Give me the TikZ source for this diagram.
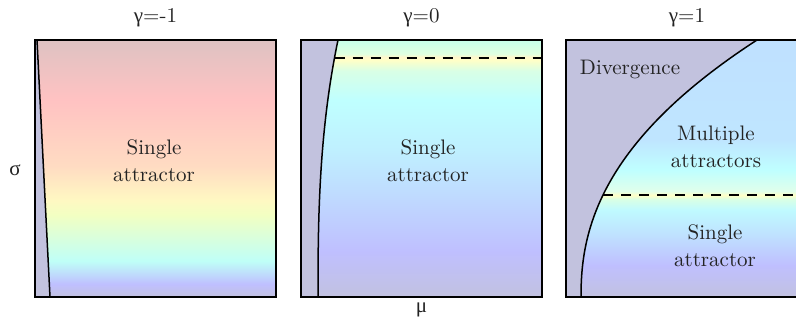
\documentclass[tikz,border=0pt]{standalone}
\usepackage{fontspec}
\usepackage{tikz}
\newfontfamily\grk{Liberation Serif}
\definecolor{divcol}{RGB}{194,194,222}
\definecolor{ink}{RGB}{35,35,35}
\pgfdeclareverticalshading{gneg}{100bp}{rgb(0bp)=(.76,.76,.88); rgb(25bp)=(.76,.76,.88); rgb(27.5bp)=(.75,.75,1); rgb(32bp)=(.75,1,.97); rgb(41bp)=(.95,1,.76); rgb(44bp)=(1,.97,.76); rgb(50.5bp)=(1,.86,.76); rgb(63.5bp)=(1,.76,.76); rgb(75bp)=(.87,.76,.76); rgb(100bp)=(.87,.76,.76)}
\pgfdeclareverticalshading{gzero}{100bp}{rgb(0bp)=(.76,.76,.88); rgb(25bp)=(.76,.76,.88); rgb(34bp)=(.75,.75,1); rgb(44bp)=(.75,.85,1); rgb(53.6bp)=(.75,.94,1); rgb(63.3bp)=(.75,1,1); rgb(69bp)=(.85,1,.9); rgb(71.1bp)=(1,1,.78); rgb(71.7bp)=(1,.97,.8); rgb(72.3bp)=(.88,1,.88); rgb(75bp)=(.78,1,.92); rgb(100bp)=(.78,1,.92)}
\pgfdeclareverticalshading{gpos}{100bp}{rgb(0bp)=(.76,.76,.88); rgb(25bp)=(.76,.76,.88); rgb(31.2bp)=(.75,.75,1); rgb(37bp)=(.75,.88,1); rgb(41.9bp)=(.75,.98,1); rgb(44bp)=(.85,1,.9); rgb(44.8bp)=(1,1,.78); rgb(45.6bp)=(.88,1,.92); rgb(49.7bp)=(.75,1,1); rgb(55.5bp)=(.75,.9,1); rgb(75bp)=(.75,.88,1); rgb(100bp)=(.75,.88,1)}

\begin{document}
\begin{tikzpicture}[
  x=0.5pt,y=-0.5pt,
  frame/.style={draw=black,line width=1pt},
  bound/.style={draw=black,line width=0.75pt},
  crit/.style={draw=black,line width=0.75pt,dash pattern=on 5pt off 4pt},
  lbl/.style={align=center,text=ink,font=\fontsize{10.5}{13.5}\selectfont},
  ttl/.style={text=ink,font=\fontsize{10.5}{13.5}\selectfont}
]
\useasboundingbox (0,0) rectangle (796,321);
\clip (0,0) rectangle (796,321);

% gamma = -1
\shade[shading=gneg] (35,40) rectangle (276,297);
\fill[divcol] (35,40) -- (37,40) -- (50,297) -- (35,297) -- cycle;
\draw[bound] (37,40) -- (50,297);
\draw[frame] (35,40) rectangle (276,297);

% gamma = 0
\shade[shading=gzero] (301,40) rectangle (542,297);
\fill[divcol] (301,297) -- plot[domain=0.5:257,samples=60,variable=\d] ({318+20*(\d/257)^2.68},{297-\d}) -- (301,40) -- cycle;
\draw[bound] plot[domain=0.5:257,samples=60,variable=\d] ({318+20*(\d/257)^2.68},{297-\d});
\draw[crit] (334.5,58) -- (542,58);
\draw[frame] (301,40) rectangle (542,297);

% gamma = 1
\shade[shading=gpos] (566,40) rectangle (807,297);
\fill[divcol] (566,297) -- plot[domain=0.5:257,samples=80,variable=\d] ({581+22*(\d/102)^2.25},{297-\d}) -- (566,40) -- cycle;
\draw[bound] plot[domain=0.5:257,samples=80,variable=\d] ({581+22*(\d/102)^2.25},{297-\d});
\draw[crit] (603,195) -- (807,195);
\draw[frame] (566,40) rectangle (807,297);

\node[ttl] (tneg) at (155.5,18) {{\grk γ}=-1};
\node[ttl] (tzero) at (421.5,18) {{\grk γ}=0};
\node[ttl] (tpos) at (687,18) {{\grk γ}=1};
\node[ttl] (sigma) at (15,170) {\grk σ};
\node[ttl] (mu) at (421.5,310) {\grk μ};
\node[lbl] (single1) at (154,161) {Single\\attractor};
\node[lbl] (single2) at (428,161) {Single\\attractor};
\node[lbl] (diverge) at (630,69) {Divergence};
\node[lbl] (multi) at (716,147) {Multiple\\attractors};
\node[lbl] (single3) at (715,246) {Single\\attractor};
\end{tikzpicture}
\end{document}
